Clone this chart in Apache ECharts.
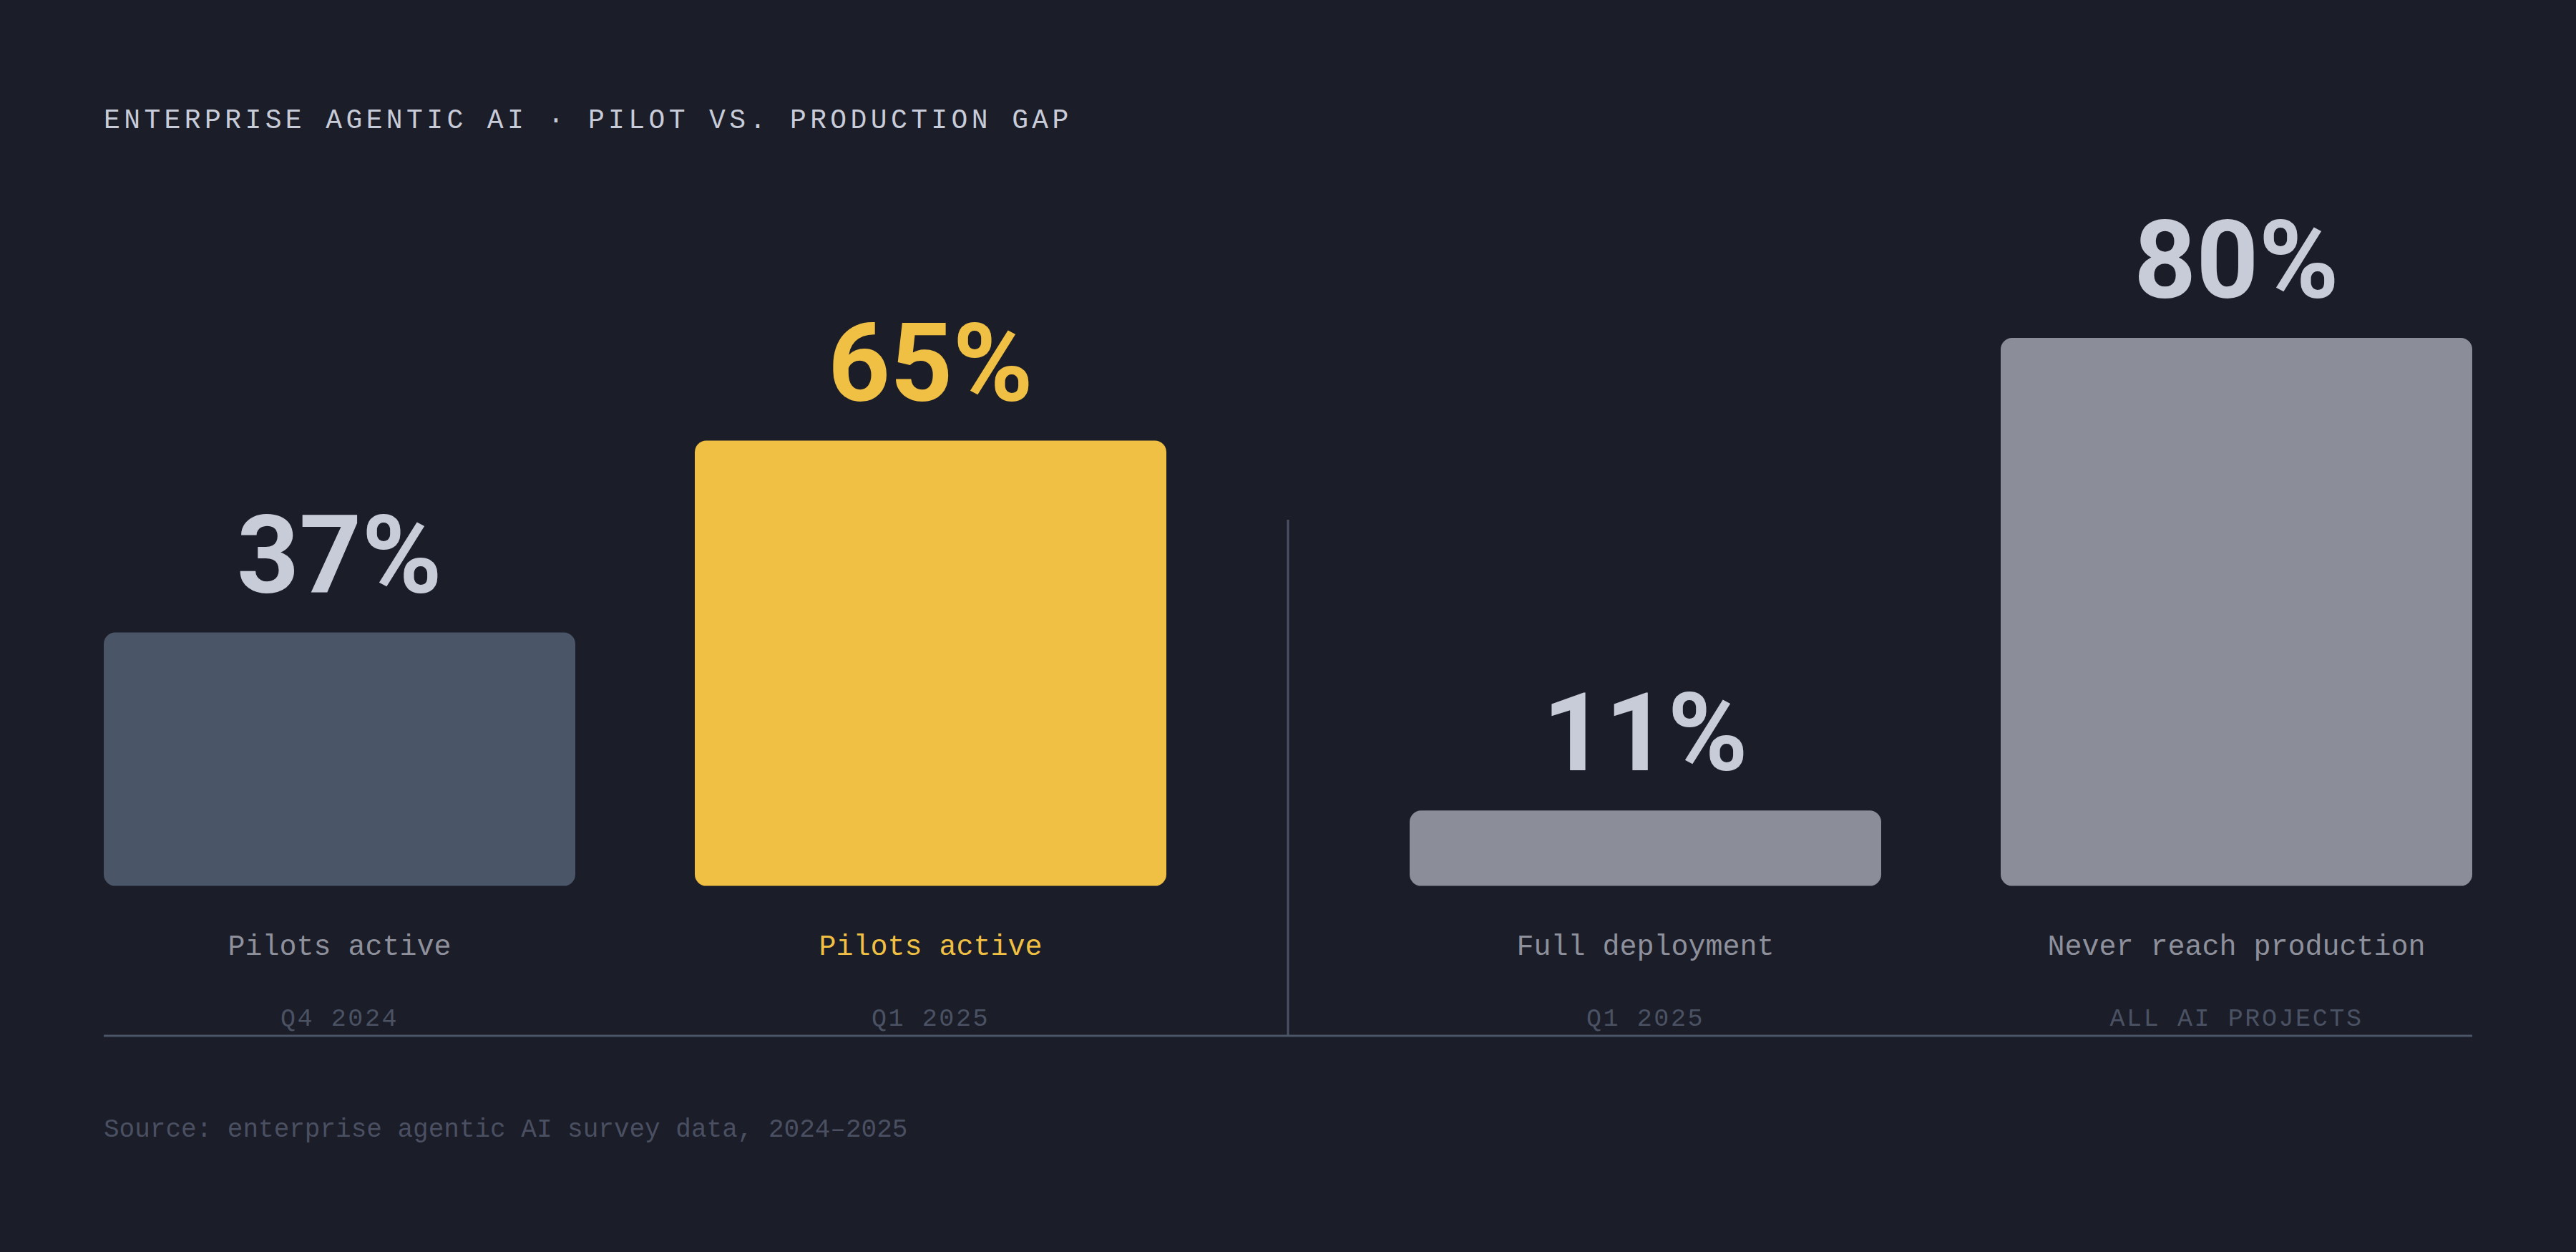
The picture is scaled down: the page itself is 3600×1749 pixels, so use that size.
<!DOCTYPE html>
<html><head><meta charset="utf-8">
<script src="https://cdn.jsdelivr.net/npm/echarts@6/dist/echarts.min.js"></script>
<style>html,body{margin:0;padding:0;background:#1b1d28;overflow:hidden}#c{width:3600px;height:1749px}</style>
</head><body><div id="c"></div>
<script>
const titleText = 'ENTERPRISE AGENTIC AI · PILOT VS. PRODUCTION GAP';
const sourceText = 'Source: enterprise agentic AI survey data, 2024–2025';
const leftCategories = ['Pilots active', 'Pilots active'];
const leftPeriods = ['Q4 2024', 'Q1 2025'];
const leftValues = [37, 65];
const rightCategories = ['Full deployment', 'Never reach production'];
const rightPeriods = ['Q1 2025', 'ALL AI PROJECTS'];
const rightValues = [11, 80];

const BG = '#1b1d28';
const leftBarColors = ['#4a5567', '#f0c044'];
const rightBarColors = ['#8b8d99', '#8b8d99'];
const leftNumColors = ['#c8ccd8', '#f0c044'];
const rightNumColors = ['#c8ccd8', '#c8ccd8'];
const leftCatColors = ['#8e909c', '#f0c044'];
const rightCatColors = ['#8e909c', '#8e909c'];

const MONO = '"Liberation Mono", "DejaVu Sans Mono", monospace';
const NUM = 'Roboto, "Noto Sans", sans-serif';

function barData(vals, barColors, numColors) {
  return vals.map((v, i) => ({
    value: v,
    itemStyle: { color: barColors[i] },
    label: { color: numColors[i] }
  }));
}
function catLabel(cats, periods, colors) {
  return {
    interval: 0,
    margin: 46,
    formatter: (val, idx) => '{' + (colors[idx] === '#f0c044' ? 'ay' : 'a') + '|' + cats[idx] + '}\n{b|' + periods[idx] + '}',
    rich: {
      a: { fontFamily: MONO, fontSize: 40, lineHeight: 80, color: '#8e909c' },
      ay: { fontFamily: MONO, fontSize: 40, lineHeight: 80, color: '#f0c044' },
      b: { fontFamily: MONO, fontSize: 35, lineHeight: 120, color: '#4a5263' }
    }
  };
}
const barLabel = {
  show: true, position: 'top', distance: 32,
  fontFamily: NUM, fontWeight: 700, fontSize: 152, lineHeight: 152,
  formatter: '{c}%'
};

const chart = echarts.init(document.getElementById('c'), null, { renderer: 'svg', width: 3600, height: 1749 });
chart.setOption({
  backgroundColor: BG,
  animation: false,
  title: [
    { text: titleText, left: 145, top: 149, padding: 0, textStyle: { fontFamily: MONO, fontSize: 38, fontWeight: 'normal', color: '#c8ccd8' } },
    { text: sourceText, left: 145, top: 1560, padding: 0, textStyle: { fontFamily: MONO, fontSize: 36, fontWeight: 'normal', color: '#4a5062' } }
  ],
  grid: [
    { left: 61.5, width: 1652, top: 280.6, bottom: 511.4, outerBoundsMode: 'none', containLabel: false },
    { left: 1886.5, width: 1652, top: 280.6, bottom: 511.4, outerBoundsMode: 'none', containLabel: false }
  ],
  xAxis: [
    { type: 'category', gridIndex: 0, data: leftCategories, axisLine: { show: false }, axisTick: { show: false }, axisLabel: catLabel(leftCategories, leftPeriods, leftCatColors) },
    { type: 'category', gridIndex: 1, data: rightCategories, axisLine: { show: false }, axisTick: { show: false }, axisLabel: catLabel(rightCategories, rightPeriods, rightCatColors) }
  ],
  yAxis: [
    { type: 'value', gridIndex: 0, min: 0, max: 100, show: false },
    { type: 'value', gridIndex: 1, min: 0, max: 100, show: false }
  ],
  series: [
    { type: 'bar', xAxisIndex: 0, yAxisIndex: 0, barWidth: 659, itemStyle: { borderRadius: 16 }, label: barLabel, data: barData(leftValues, leftBarColors, leftNumColors) },
    { type: 'bar', xAxisIndex: 1, yAxisIndex: 1, barWidth: 659, itemStyle: { borderRadius: 16 }, label: barLabel, data: barData(rightValues, rightBarColors, rightNumColors) }
  ],
  graphic: [
    { type: 'line', silent: true, shape: { x1: 145, y1: 1447, x2: 3455, y2: 1447 }, style: { stroke: '#4a5567', lineWidth: 3 } },
    { type: 'line', silent: true, shape: { x1: 1800, y1: 726, x2: 1800, y2: 1446 }, style: { stroke: '#4a5163', lineWidth: 3 } }
  ]
});

const spacing = {};
spacing[titleText] = '5.4px';
leftPeriods.concat(rightPeriods).forEach(p => { spacing[p] = '2.6px'; });
function applySpacing() {
  document.querySelectorAll('#c text, #c tspan').forEach(t => {
    const s = spacing[t.textContent];
    if (s) t.setAttribute('letter-spacing', s);
  });
}
applySpacing();
chart.on('finished', applySpacing);
</script></body></html>
